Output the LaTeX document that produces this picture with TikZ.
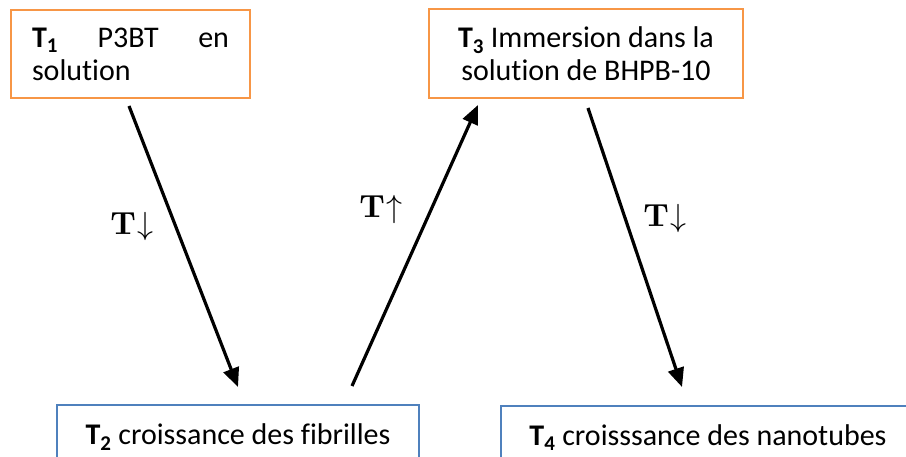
\documentclass[tikz,border=0pt]{standalone}
\usepackage{graphicx}
\usepackage[no-math]{fontspec}
\setmainfont{Carlito}[Ligatures=NoCommon]
\usetikzlibrary{calc,arrows.meta}
\definecolor{boxorange}{HTML}{F79646}
\definecolor{boxblue}{HTML}{4F81BD}
\newcommand{\tlab}[1]{\scalebox{3.2}{$\mathbf{T}\mkern1mu{#1}$}}
\tikzset{
  basebox/.style={rectangle, line width=2pt, inner sep=0pt,
    font=\fontsize{30}{33}\selectfont},
  obox/.style={basebox, draw=boxorange},
  bbox/.style={basebox, draw=boxblue},
  arr/.style={line width=3.2pt, -{Triangle[length=19pt,width=16pt]}},
  tlabel/.style={inner sep=0pt}
}
\begin{document}
\begin{tikzpicture}[x=1pt,y=-1pt]
\useasboundingbox (0,0) rectangle (906,457);
\clip (0,0) rectangle (906,457);
\node[obox, minimum width=239pt, minimum height=88pt, text width=197pt, align=left] (t1) at (130.5,54)
  {\textbf{T\textsubscript{1}}\hfill P3BT\hfill en\\solution};
\node[obox, minimum width=314pt, minimum height=89pt, align=center] (t3) at (586,54)
  {\textbf{T\textsubscript{3}} Immersion dans la\\solution de BHPB-10};
\node[bbox, minimum width=362pt, minimum height=64pt] (t2) at (238,437)
  {\textbf{T\textsubscript{2}} croissance des fibrilles};
\node[bbox, minimum width=414pt, minimum height=64pt] (t4) at (708,438)
  {\textbf{T\textsubscript{4}} croisssance des nanotubes};
\draw[arr] ($(t1.south)+(-1.5,7)$) -- ($(t2.north)+(0,-17)$);
\draw[arr] ($(t2.north)+(114,-18)$) -- ($(t3.south)+(-108,5.5)$);
\draw[arr] ($(t3.south)+(2,8.5)$) -- ($(t4.north)+(-26,-18)$);
\node[tlabel] (l1) at (132,227) {\tlab{\downarrow}};
\node[tlabel] (l2) at (381,210) {\tlab{\uparrow}};
\node[tlabel] (l3) at (665,219) {\tlab{\downarrow}};
\end{tikzpicture}
\end{document}
